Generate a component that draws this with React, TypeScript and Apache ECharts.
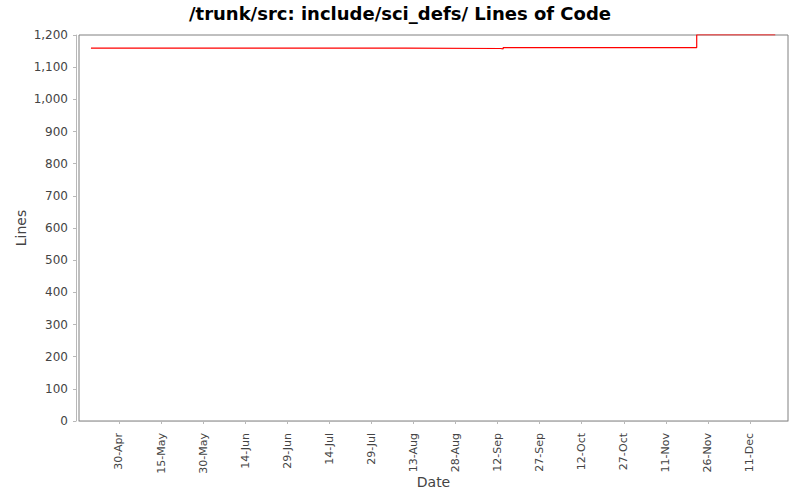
import React, { useEffect, useRef } from "react";
import * as echarts from "echarts";

// Data: commit dates and lines of code (step series)
const dates: string[] = [
  "2009-04-20",
  "2009-08-10",
  "2009-09-13",
  "2009-09-14",
  "2009-11-22",
  "2009-12-20",
];
const linesOfCode: number[] = [1159, 1158, 1157, 1161, 1201, 1201];

// Tick labels on the date axis
const dateTicks: string[] = [
  "2009-04-30", "2009-05-15", "2009-05-30", "2009-06-14", "2009-06-29",
  "2009-07-14", "2009-07-29", "2009-08-13", "2009-08-28", "2009-09-12",
  "2009-09-27", "2009-10-12", "2009-10-27", "2009-11-11", "2009-11-26",
  "2009-12-11",
];
const axisStart = "2009-04-30";
const axisStartOffsetDays = -14.26;
const axisEnd = "2009-12-11";
const axisEndOffsetDays = 13.55;

const MONTHS = ["Jan", "Feb", "Mar", "Apr", "May", "Jun", "Jul", "Aug", "Sep", "Oct", "Nov", "Dec"];
const DAY = 86400000;

function ts(s: string): number {
  const [y, m, d] = s.split("-").map(Number);
  return Date.UTC(y, m - 1, d);
}

export default function App() {
  const ref = useRef<HTMLDivElement>(null);

  useEffect(() => {
    if (!ref.current) return;
    const chart = echarts.init(ref.current, undefined, { renderer: "svg" });
    const font = "'DejaVu Sans', sans-serif";
    chart.setOption({
      animation: false,
      backgroundColor: "#ffffff",
      title: {
        text: "/trunk/src: include/sci_defs/ Lines of Code",
        left: "center",
        top: -1,
        textStyle: { fontFamily: font, fontSize: 18, fontWeight: "bold", color: "#000" },
      },
      grid: {
        left: 79,
        right: 12,
        top: 35,
        bottom: 79,
        show: true,
        borderColor: "#808080",
        borderWidth: 1,
        backgroundColor: "#ffffff",
      },
      xAxis: {
        type: "value",
        min: ts(axisStart) + axisStartOffsetDays * DAY,
        max: ts(axisEnd) + axisEndOffsetDays * DAY,
        offset: 4,
        name: "Date",
        nameLocation: "middle",
        nameGap: 50,
        nameMoveOverlap: false,
        nameTextStyle: { fontFamily: font, fontSize: 14, color: "#444" },
        axisLine: { show: true, lineStyle: { color: "#b8b8b8", width: 1 } },
        axisTick: {
          show: true,
          length: 3,
          lineStyle: { color: "#b8b8b8" },
          customValues: dateTicks.map(ts),
        },
        axisLabel: {
          rotate: 90,
          margin: 8,
          fontFamily: font,
          fontSize: 11,
          color: "#444",
          customValues: dateTicks.map(ts),
          formatter: (v: number) => {
            const d = new Date(v);
            return d.getUTCDate() + "-" + MONTHS[d.getUTCMonth()];
          },
        },
        splitLine: { show: false },
      },
      yAxis: {
        type: "value",
        min: 0,
        max: 1200,
        interval: 100,
        offset: 3,
        name: "Lines",
        nameLocation: "middle",
        nameGap: 48,
        nameMoveOverlap: false,
        nameRotate: 90,
        nameTextStyle: { fontFamily: font, fontSize: 14, color: "#444" },
        axisLine: { show: true, lineStyle: { color: "#b8b8b8", width: 1 } },
        axisTick: { show: true, length: 3, lineStyle: { color: "#b8b8b8" } },
        axisLabel: {
          margin: 8,
          fontFamily: font,
          fontSize: 12,
          color: "#444",
          formatter: (v: number) => v.toLocaleString("en-US"),
        },
        splitLine: { show: false },
      },
      series: [
        {
          type: "line",
          step: "end",
          data: dates.map((d, i) => [ts(d), linesOfCode[i]]),
          showSymbol: false,
          symbol: "none",
          lineStyle: { color: "#ff0000", width: 1.2 },
          itemStyle: { color: "#ff0000" },
        },
      ],
    });
    return () => chart.dispose();
  }, []);

  return (
    <div
      ref={ref}
      style={{ position: "fixed", left: 0, top: 0, width: 800, height: 500, background: "#fff" }}
    />
  );
}
